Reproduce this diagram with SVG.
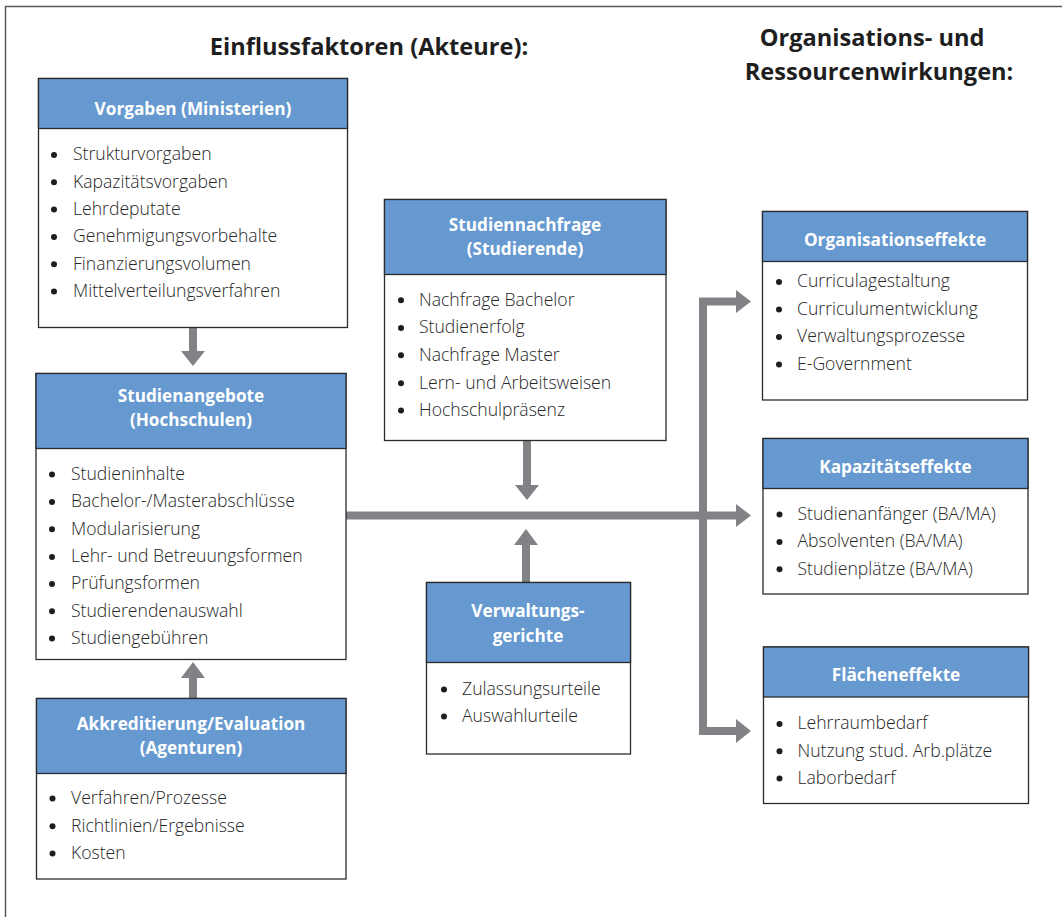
<svg xmlns="http://www.w3.org/2000/svg" width="1062" height="917" viewBox="0 0 1062 917">
<defs>
<style>
.frame{fill:none;stroke:#5a5a5a;stroke-width:1.5}
.box{fill:#fff;stroke:#2b2b2b;stroke-width:1.3}
.hdr{fill:#6699d0;stroke:#2b2b2b;stroke-width:1.3}
.ht{font-family:"Open Sans","Noto Sans",sans-serif;font-weight:700;font-size:17.2px;fill:#fff;text-anchor:middle}
.it{font-family:"Open Sans","Noto Sans",sans-serif;font-weight:300;font-size:17.6px;fill:#262626}
.bl{fill:#1e1e1e}
.mt{font-family:"Open Sans","Noto Sans",sans-serif;font-weight:700;font-size:23.6px;fill:#1e1e1e;text-anchor:middle}
.sh{fill:none;stroke:#808285;stroke-width:8}
.ah{fill:#808285}
</style>
</defs>
<rect width="1062" height="917" fill="#fff"/>
<path class="frame" d="M5.5,917 V6.5 H1062"/>
<text class="mt" x="369" y="55">Einflussfaktoren (Akteure):</text>
<text class="mt" x="872" y="46">Organisations- und</text>
<text class="mt" x="879" y="80">Ressourcenwirkungen:</text>

<g id="connectors">
<line class="sh" x1="193" y1="328" x2="193" y2="352"/>
<polygon class="ah" points="181,351 205,351 193,366"/>
<line class="sh" x1="193" y1="698" x2="193" y2="677"/>
<polygon class="ah" points="181,678 205,678 193,662"/>
<line class="sh" x1="527" y1="441" x2="527" y2="486"/>
<polygon class="ah" points="515,485 539,485 527,500"/>
<line class="sh" x1="526" y1="582" x2="526" y2="544"/>
<polygon class="ah" points="514,545 538,545 526,529"/>
<line class="sh" x1="346" y1="515.5" x2="737" y2="515.5"/>
<polygon class="ah" points="736,504 736,527 751,515.5"/>
<path class="sh" d="M737,301.5 H703 V731 H737"/>
<polygon class="ah" points="736,290 736,313 751,301.5"/>
<polygon class="ah" points="736,719 736,743 751,731"/>
</g>

<g id="vorgaben">
<rect class="box" x="38.5" y="78.5" width="309" height="249"/>
<rect class="hdr" x="38.5" y="78.5" width="309" height="50"/>
<text class="ht" x="193" y="115">Vorgaben (Ministerien)</text>
<circle class="bl" cx="54" cy="155" r="3"/><text class="it" x="73" y="160.3">Strukturvorgaben</text>
<circle class="bl" cx="54" cy="182.3" r="3"/><text class="it" x="73" y="187.7">Kapazitätsvorgaben</text>
<circle class="bl" cx="54" cy="209.6" r="3"/><text class="it" x="73" y="215">Lehrdeputate</text>
<circle class="bl" cx="54" cy="237" r="3"/><text class="it" x="73" y="242.3">Genehmigungsvorbehalte</text>
<circle class="bl" cx="54" cy="264.3" r="3"/><text class="it" x="73" y="269.7">Finanzierungsvolumen</text>
<circle class="bl" cx="54" cy="291.6" r="3"/><text class="it" x="73" y="297">Mittelverteilungsverfahren</text>
</g>

<g id="studienangebote">
<rect class="box" x="36" y="373.5" width="310" height="286"/>
<rect class="hdr" x="36" y="373.5" width="310" height="75"/>
<text class="ht" x="191" y="401.7">Studienangebote</text>
<text class="ht" x="191" y="426">(Hochschulen)</text>
<circle class="bl" cx="52" cy="474.6" r="3"/><text class="it" x="71" y="480">Studieninhalte</text>
<circle class="bl" cx="52" cy="502" r="3"/><text class="it" x="71" y="507.3">Bachelor-/Masterabschlüsse</text>
<circle class="bl" cx="52" cy="529.3" r="3"/><text class="it" x="71" y="534.7">Modularisierung</text>
<circle class="bl" cx="52" cy="557" r="3"/><text class="it" x="71" y="562.3">Lehr- und Betreuungsformen</text>
<circle class="bl" cx="52" cy="584" r="3"/><text class="it" x="71" y="589.3">Prüfungsformen</text>
<circle class="bl" cx="52" cy="611.3" r="3"/><text class="it" x="71" y="616.7">Studierendenauswahl</text>
<circle class="bl" cx="52" cy="638.6" r="3"/><text class="it" x="71" y="644">Studiengebühren</text>
</g>

<g id="akkreditierung">
<rect class="box" x="36.5" y="698.5" width="309.5" height="180.5"/>
<rect class="hdr" x="36.5" y="698.5" width="309.5" height="75"/>
<text class="ht" x="191" y="730">Akkreditierung/Evaluation</text>
<text class="ht" x="191" y="754.3">(Agenturen)</text>
<circle class="bl" cx="52.5" cy="798.6" r="3"/><text class="it" x="71" y="804">Verfahren/Prozesse</text>
<circle class="bl" cx="52.5" cy="826.3" r="3"/><text class="it" x="71" y="831.7">Richtlinien/Ergebnisse</text>
<circle class="bl" cx="52.5" cy="853.6" r="3"/><text class="it" x="71" y="859">Kosten</text>
</g>

<g id="studiennachfrage">
<rect class="box" x="384.5" y="199.5" width="281.5" height="241"/>
<rect class="hdr" x="384.5" y="199.5" width="281.5" height="75"/>
<text class="ht" x="525" y="230.7">Studiennachfrage</text>
<text class="ht" x="525" y="255">(Studierende)</text>
<circle class="bl" cx="401" cy="300.3" r="3"/><text class="it" x="419" y="305.7">Nachfrage Bachelor</text>
<circle class="bl" cx="401" cy="328" r="3"/><text class="it" x="419" y="333.3">Studienerfolg</text>
<circle class="bl" cx="401" cy="355.3" r="3"/><text class="it" x="419" y="360.7">Nachfrage Master</text>
<circle class="bl" cx="401" cy="383.3" r="3"/><text class="it" x="419" y="388.7">Lern- und Arbeitsweisen</text>
<circle class="bl" cx="401" cy="410.6" r="3"/><text class="it" x="419" y="416">Hochschulpräsenz</text>
</g>

<g id="verwaltungsgerichte">
<rect class="box" x="426.5" y="582.5" width="204" height="171.5"/>
<rect class="hdr" x="426.5" y="582.5" width="204" height="80"/>
<text class="ht" x="528" y="617">Verwaltungs-</text>
<text class="ht" x="528" y="642">gerichte</text>
<circle class="bl" cx="444" cy="689.6" r="3"/><text class="it" x="462" y="695">Zulassungsurteile</text>
<circle class="bl" cx="444" cy="716.6" r="3"/><text class="it" x="462" y="722">Auswahlurteile</text>
</g>

<g id="organisationseffekte">
<rect class="box" x="762.5" y="211.5" width="265" height="188.5"/>
<rect class="hdr" x="762.5" y="211.5" width="265" height="50"/>
<text class="ht" x="895" y="245.7">Organisationseffekte</text>
<circle class="bl" cx="779" cy="282" r="3"/><text class="it" x="797" y="287.3">Curriculagestaltung</text>
<circle class="bl" cx="779" cy="309.6" r="3"/><text class="it" x="797" y="315">Curriculumentwicklung</text>
<circle class="bl" cx="779" cy="337" r="3"/><text class="it" x="797" y="342.3">Verwaltungsprozesse</text>
<circle class="bl" cx="779" cy="364.6" r="3"/><text class="it" x="797" y="370">E-Government</text>
</g>

<g id="kapazitaetseffekte">
<rect class="box" x="763" y="438.5" width="265" height="155.5"/>
<rect class="hdr" x="763" y="438.5" width="265" height="50"/>
<text class="ht" x="895.5" y="472.5">Kapazitätseffekte</text>
<circle class="bl" cx="779.5" cy="514.6" r="3"/><text class="it" x="797.5" y="520">Studienanfänger (BA/MA)</text>
<circle class="bl" cx="779.5" cy="542" r="3"/><text class="it" x="797.5" y="547.3">Absolventen (BA/MA)</text>
<circle class="bl" cx="779.5" cy="569.3" r="3"/><text class="it" x="797.5" y="574.7">Studienplätze (BA/MA)</text>
</g>

<g id="flaecheneffekte">
<rect class="box" x="763.5" y="647" width="265" height="156.5"/>
<rect class="hdr" x="763.5" y="647" width="265" height="50"/>
<text class="ht" x="896" y="681">Flächeneffekte</text>
<circle class="bl" cx="779.5" cy="724" r="3"/><text class="it" x="797.5" y="729.3">Lehrraumbedarf</text>
<circle class="bl" cx="779.5" cy="751.3" r="3"/><text class="it" x="797.5" y="756.7">Nutzung stud. Arb.plätze</text>
<circle class="bl" cx="779.5" cy="778.6" r="3"/><text class="it" x="797.5" y="784">Laborbedarf</text>
</g>
</svg>
